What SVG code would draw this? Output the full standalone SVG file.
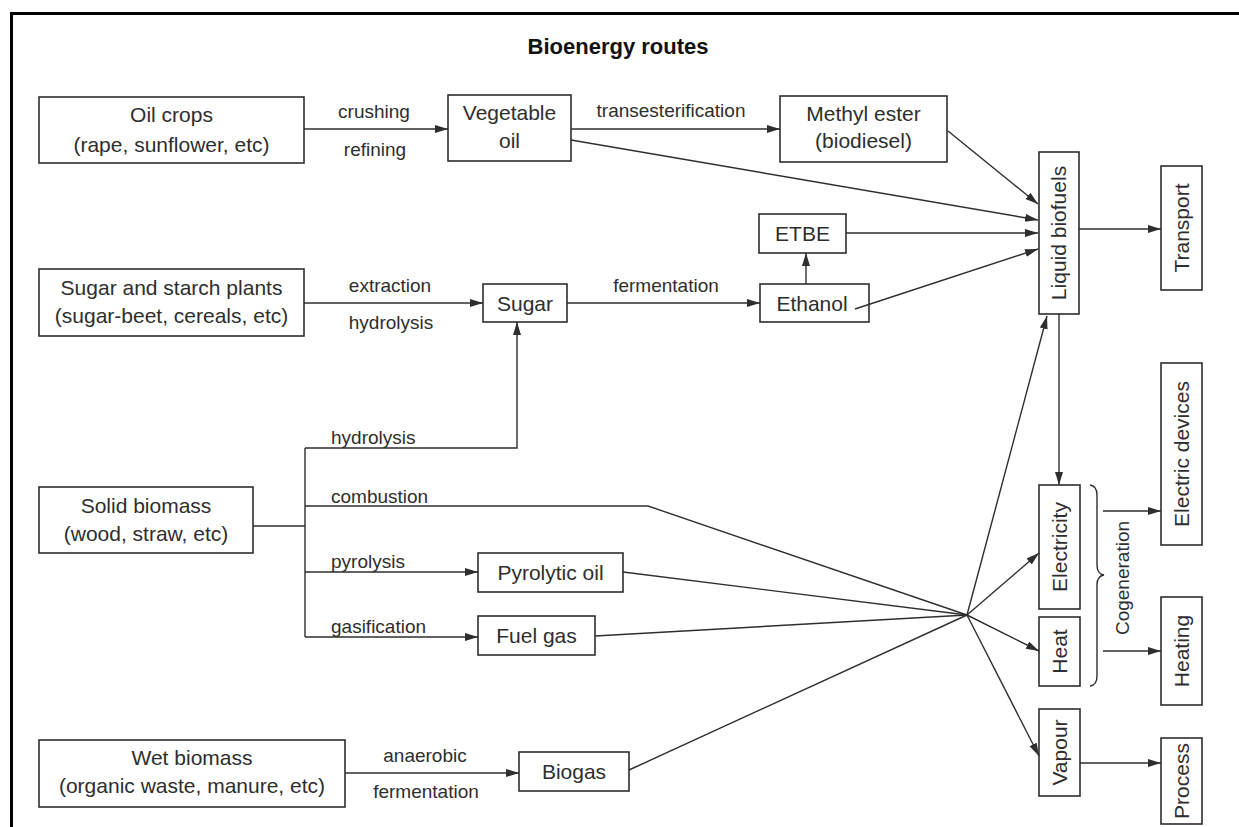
<svg xmlns="http://www.w3.org/2000/svg" width="1239" height="827" viewBox="0 0 1239 827">
<defs>
<style>
.box{fill:#fff;stroke:#2e2e2e;stroke-width:1.6}
.t{font-family:"Liberation Sans",Arial,sans-serif;font-size:21px;fill:#2e2e2e;text-anchor:middle}
.rt{font-family:"Liberation Sans",Arial,sans-serif;font-size:21px;fill:#2e2e2e;text-anchor:middle}
.lbl{font-family:"Liberation Sans",Arial,sans-serif;font-size:19px;fill:#2e2e2e;text-anchor:middle}
.lbs{font-family:"Liberation Sans",Arial,sans-serif;font-size:19px;fill:#2e2e2e;text-anchor:start}
.ln{fill:none;stroke:#2e2e2e;stroke-width:1.4}
.arr{fill:none;stroke:#2e2e2e;stroke-width:1.4;marker-end:url(#ah)}
</style>
<marker id="ah" markerUnits="userSpaceOnUse" markerWidth="14" markerHeight="10" refX="13" refY="4" orient="auto">
<path d="M0,0 L13,4 L0,8 Z" fill="#2e2e2e"/>
</marker>
</defs>
<rect width="1239" height="827" fill="#fff"/>
<path d="M11.5,840 V13.5 H1250" fill="none" stroke="#000" stroke-width="3"/>
<text x="618" y="54" font-family="Liberation Sans,Arial,sans-serif" font-size="22" font-weight="bold" text-anchor="middle" fill="#111">Bioenergy routes</text>

<g id="oil-crops"><rect class="box" x="39" y="97" width="265" height="66"/><text class="t" x="171.5" y="122">Oil crops</text><text class="t" x="171.5" y="152">(rape, sunflower, etc)</text></g>
<g id="vegetable-oil"><rect class="box" x="448" y="95" width="123" height="66"/><text class="t" x="509.5" y="120">Vegetable</text><text class="t" x="509.5" y="148">oil</text></g>
<g id="methyl-ester"><rect class="box" x="780" y="96" width="167" height="66"/><text class="t" x="863.5" y="121">Methyl ester</text><text class="t" x="863.5" y="148">(biodiesel)</text></g>
<g id="liquid-biofuels"><rect class="box" x="1039" y="152" width="40" height="162"/><text class="rt" transform="translate(1059,233) rotate(-90)" y="7">Liquid biofuels</text></g>
<g id="transport"><rect class="box" x="1161" y="166" width="41" height="124"/><text class="rt" transform="translate(1181.5,228) rotate(-90)" y="7">Transport</text></g>
<g id="etbe"><rect class="box" x="759" y="214" width="87" height="39"/><text class="t" x="802.5" y="241">ETBE</text></g>
<g id="sugar-starch"><rect class="box" x="39" y="269" width="265" height="67"/><text class="t" x="171.5" y="295">Sugar and starch plants</text><text class="t" x="171.5" y="323">(sugar-beet, cereals, etc)</text></g>
<g id="sugar"><rect class="box" x="483" y="284" width="84" height="38"/><text class="t" x="525" y="311">Sugar</text></g>
<g id="ethanol"><rect class="box" x="760" y="284" width="109" height="38"/><text class="t" x="812" y="311">Ethanol</text></g>
<g id="solid-biomass"><rect class="box" x="39" y="487" width="214" height="66"/><text class="t" x="146" y="513">Solid biomass</text><text class="t" x="146" y="541">(wood, straw, etc)</text></g>
<g id="pyrolytic-oil"><rect class="box" x="478" y="553" width="145" height="39"/><text class="t" x="550.5" y="580">Pyrolytic oil</text></g>
<g id="fuel-gas"><rect class="box" x="478" y="616" width="117" height="39"/><text class="t" x="536.5" y="643">Fuel gas</text></g>
<g id="wet-biomass"><rect class="box" x="39" y="740" width="306" height="67"/><text class="t" x="192" y="765">Wet biomass</text><text class="t" x="192" y="793">(organic waste, manure, etc)</text></g>
<g id="biogas"><rect class="box" x="519" y="752" width="110" height="39"/><text class="t" x="574" y="779">Biogas</text></g>
<g id="electricity"><rect class="box" x="1039" y="485" width="41" height="124"/><text class="rt" transform="translate(1059.5,547) rotate(-90)" y="7">Electricity</text></g>
<g id="heat"><rect class="box" x="1039" y="617" width="41" height="69"/><text class="rt" transform="translate(1059.5,651.5) rotate(-90)" y="7">Heat</text></g>
<g id="vapour"><rect class="box" x="1039" y="709" width="41" height="87"/><text class="rt" transform="translate(1059.5,752.5) rotate(-90)" y="7">Vapour</text></g>
<g id="electric-devices"><rect class="box" x="1161" y="363" width="41" height="182"/><text class="rt" transform="translate(1181.5,454) rotate(-90)" y="7">Electric devices</text></g>
<g id="heating"><rect class="box" x="1161" y="597" width="41" height="108"/><text class="rt" transform="translate(1181.5,651) rotate(-90)" y="7">Heating</text></g>
<g id="process"><rect class="box" x="1161" y="738" width="41" height="86"/><text class="rt" transform="translate(1181.5,781) rotate(-90)" y="7">Process</text></g>

<g id="connectors">
<path class="arr" d="M304,129 H448"/>
<path class="arr" d="M571,129 H780"/>
<path class="arr" d="M571,140 L1038,220"/>
<path class="arr" d="M948,131 L1038,204"/>
<path class="arr" d="M846,233 H1038"/>
<path class="arr" d="M855,309 L1038,249"/>
<path class="arr" d="M806,284 V253"/>
<path class="arr" d="M1079,229 H1161"/>
<path class="arr" d="M1059,314 V485"/>
<path class="arr" d="M304,303 H483"/>
<path class="arr" d="M567,303 H760"/>
<path class="ln" d="M253,526 H305 M305,448 V637"/>
<path class="arr" d="M305,448 H517 V322"/>
<path class="ln" d="M305,506 H648 L967,615"/>
<path class="arr" d="M305,572 H478"/>
<path class="arr" d="M305,637 H478"/>
<path class="ln" d="M623,572 L967,615"/>
<path class="ln" d="M595,636 L967,615"/>
<path class="ln" d="M629,770 L967,615"/>
<path class="arr" d="M345,773 H519"/>
<path class="arr" d="M967,615 L1047,316"/>
<path class="arr" d="M967,615 L1039,553"/>
<path class="arr" d="M967,615 L1039,651"/>
<path class="arr" d="M967,615 L1039,756"/>
<path class="arr" d="M1103,511 H1161"/>
<path class="arr" d="M1103,651 H1161"/>
<path class="arr" d="M1080,763 H1161"/>
<path class="ln" d="M1090,485 Q1097,486 1097,495 V565 Q1097,574 1104,575 Q1097,576 1097,585 V676 Q1097,685 1090,686"/>
<text class="lbl" x="374" y="118">crushing</text>
<text class="lbl" x="375" y="156">refining</text>
<text class="lbl" x="671" y="117">transesterification</text>
<text class="lbl" x="390" y="292">extraction</text>
<text class="lbl" x="391" y="329">hydrolysis</text>
<text class="lbl" x="666" y="292">fermentation</text>
<text class="lbs" x="331" y="444">hydrolysis</text>
<text class="lbs" x="331" y="503">combustion</text>
<text class="lbs" x="331" y="568">pyrolysis</text>
<text class="lbs" x="331" y="633">gasification</text>
<text class="lbl" x="425" y="762">anaerobic</text>
<text class="lbl" x="426" y="798">fermentation</text>
<text class="lbl" transform="translate(1123,578) rotate(-90)" y="6">Cogeneration</text>
</g>
</svg>
